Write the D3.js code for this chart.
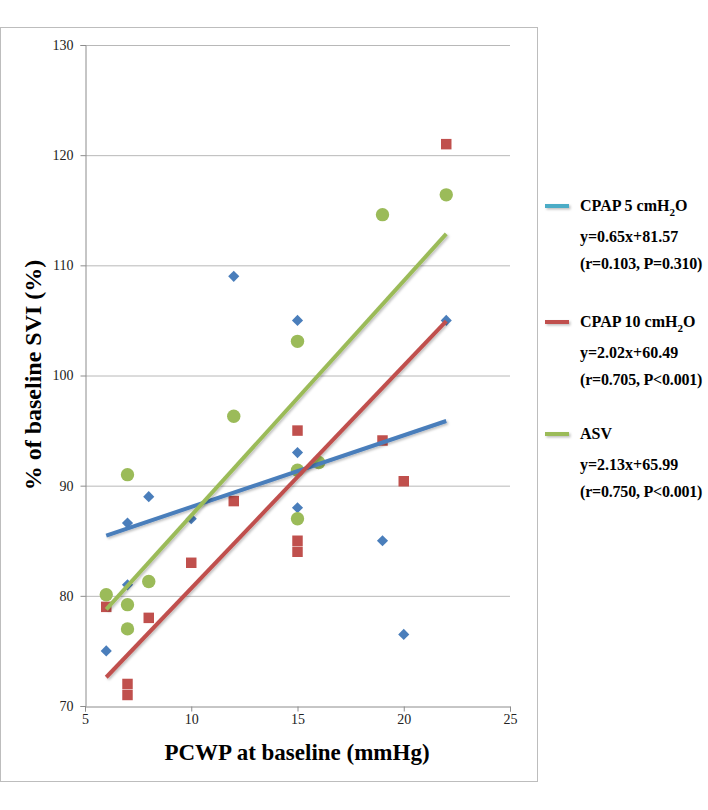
<!DOCTYPE html>
<html>
<head>
<meta charset="utf-8">
<script src="https://cdn.jsdelivr.net/npm/d3@7"></script>
<style>
  body { margin: 0; background: #fff; }
  svg { display: block; font-family: "Liberation Serif", "DejaVu Serif", serif; }
</style>
</head>
<body>
<svg width="708" height="810"></svg>
<script>
// CPAP 5 cmH2O (blue diamonds)
var cpap5X = [6, 7, 7, 8, 10, 12, 15, 15, 15, 16, 19, 20, 22];
var cpap5Y = [75, 81, 86.6, 89, 87, 109, 105, 93, 88, 92, 85, 76.5, 105];
// CPAP 10 cmH2O (red squares)
var cpap10X = [6, 7, 7, 8, 10, 12, 15, 15, 15, 19, 20, 22];
var cpap10Y = [79, 72, 71, 78, 83, 88.6, 95, 85, 84, 94.1, 90.4, 121];
// ASV (green circles)
var asvX = [6, 7, 7, 7, 8, 12, 15, 15, 15, 16, 19, 22];
var asvY = [80.1, 91, 79.2, 77, 81.3, 96.3, 103.1, 91.4, 87, 92.1, 114.6, 116.4];

// trend lines: slope, intercept, x range
var seriesNames = ["CPAP 5 cmH", "CPAP 10 cmH", "ASV"];
var slopes = [0.65, 2.02, 2.13];
var intercepts = [81.57, 60.49, 65.99];
var fitRange = [6, 22];
var eqLabels = ["y=0.65x+81.57", "y=2.02x+60.49", "y=2.13x+65.99"];
var statLabels = ["(r=0.103, P=0.310)", "(r=0.705, P<0.001)", "(r=0.750, P<0.001)"];

var xTicks = [5, 10, 15, 20, 25];
var yTicks = [70, 80, 90, 100, 110, 120, 130];

var svg = d3.select("svg");

var x = d3.scaleLinear().domain([5, 25]).range([85, 510]);
var y = d3.scaleLinear().domain([70, 130]).range([706, 45]);

// outer frame
svg.append("rect")
    .attr("x", 0.5).attr("y", 27.5)
    .attr("width", 537).attr("height", 754)
    .attr("fill", "none")
    .attr("stroke", "#bdbdbd");

var defs = svg.append("defs");
var f = defs.append("filter").attr("id", "shadow")
    .attr("filterUnits", "userSpaceOnUse")
    .attr("x", 0).attr("y", 0).attr("width", 708).attr("height", 810);
f.append("feDropShadow")
    .attr("dx", 1.5).attr("dy", 1.5).attr("stdDeviation", 1)
    .attr("flood-color", "#000").attr("flood-opacity", 0.25);

// gridlines
svg.append("g")
    .selectAll("line")
    .data(yTicks.slice(1))
    .enter().append("line")
    .attr("x1", 85).attr("x2", 510)
    .attr("y1", d => y(d) + 0.5).attr("y2", d => y(d) + 0.5)
    .attr("stroke", "#b8b8b8");

// axes
var xAxis = d3.axisBottom(x).tickValues(xTicks).tickSize(5).tickPadding(3);
var yAxis = d3.axisLeft(y).tickValues(yTicks).tickSize(5).tickPadding(7);

var gx = svg.append("g")
    .attr("transform", "translate(0,706.5)")
    .call(xAxis);
var gy = svg.append("g")
    .attr("transform", "translate(85.5,0)")
    .call(yAxis);

[gx, gy].forEach(function(g) {
    g.select(".domain").attr("stroke", "#8c8c8c");
    g.selectAll(".tick line").attr("stroke", "#8c8c8c");
    g.selectAll(".tick text")
        .attr("fill", "#222")
        .style("font-family", "Liberation Serif")
        .style("font-size", "14px");
});

// axis titles
svg.append("text")
    .attr("x", 297).attr("y", 760)
    .attr("text-anchor", "middle")
    .style("font-size", "23px")
    .style("font-weight", "bold")
    .text("PCWP at baseline (mmHg)");

svg.append("text")
    .attr("transform", "translate(41,375) rotate(-90)")
    .attr("text-anchor", "middle")
    .style("font-size", "24px")
    .style("font-weight", "bold")
    .text("% of baseline SVI (%)");

// markers
var blue = "#4a7ebb", red = "#c0504d", green = "#9bbb59";

svg.append("g").selectAll("path")
    .data(cpap5X.map((d, i) => [d, cpap5Y[i]]))
    .enter().append("path")
    .attr("d", d3.symbol().type(d3.symbolSquare).size(62))
    .attr("transform", d => "translate(" + x(d[0]) + "," + y(d[1]) + ") rotate(45)")
    .attr("fill", blue);

svg.append("g").selectAll("path")
    .data(cpap10X.map((d, i) => [d, cpap10Y[i]]))
    .enter().append("path")
    .attr("d", d3.symbol().type(d3.symbolSquare).size(110))
    .attr("transform", d => "translate(" + x(d[0]) + "," + y(d[1]) + ")")
    .attr("fill", red);

svg.append("g").selectAll("circle")
    .data(asvX.map((d, i) => [d, asvY[i]]))
    .enter().append("circle")
    .attr("cx", d => x(d[0]))
    .attr("cy", d => y(d[1]))
    .attr("r", 6.7)
    .attr("fill", green);

// trend lines
var lineColors = [blue, red, green];
svg.append("g").selectAll("line")
    .data(slopes)
    .enter().append("line")
    .attr("x1", x(fitRange[0]))
    .attr("x2", x(fitRange[1]))
    .attr("y1", (d, i) => y(d * fitRange[0] + intercepts[i]))
    .attr("y2", (d, i) => y(d * fitRange[1] + intercepts[i]))
    .attr("stroke", (d, i) => lineColors[i])
    .attr("stroke-width", 4)
    .attr("filter", "url(#shadow)");

// legend
var legendColors = ["#4bacc6", red, green];
var legendTop = [206, 322, 434];
var lg = svg.append("g")
    .style("font-weight", "bold")
    .style("font-size", "16px");

legendTop.forEach(function(t, i) {
    lg.append("line")
        .attr("x1", 545).attr("x2", 569)
        .attr("y1", t).attr("y2", t)
        .attr("stroke", legendColors[i])
        .attr("stroke-width", 4)
        .attr("filter", "url(#shadow)");
    var head = lg.append("text").attr("x", 580).attr("y", t + 5);
    head.append("tspan").text(seriesNames[i]);
    if (i < 2) {
        head.append("tspan").attr("dy", 5).style("font-size", "11px").text("2");
        head.append("tspan").attr("dy", -5).text("O");
    }
    lg.append("text").attr("x", 580).attr("y", t + 36).text(eqLabels[i]);
    lg.append("text").attr("x", 580).attr("y", t + 63)
        .style("letter-spacing", "-0.2px")
        .text(statLabels[i]);
});
</script>
</body>
</html>
